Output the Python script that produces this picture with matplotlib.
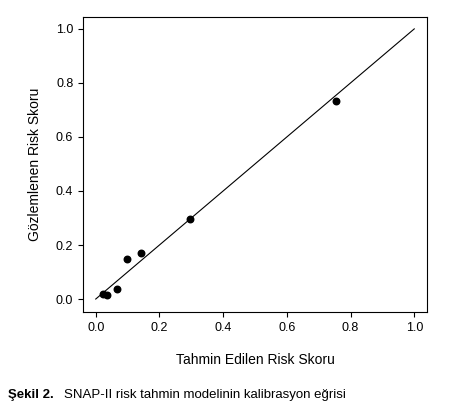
import matplotlib
matplotlib.use("Agg")
import matplotlib.pyplot as plt

predicted = [0.023, 0.034, 0.068, 0.099, 0.142, 0.297, 0.754]
observed = [0.020, 0.016, 0.037, 0.148, 0.171, 0.297, 0.734]
ticks = [0.0, 0.2, 0.4, 0.6, 0.8, 1.0]

plt.rcParams['font.family'] = ['Liberation Sans', 'DejaVu Sans']
fig = plt.figure(figsize=(4.49, 4.16), dpi=100)
ax = fig.add_axes([83/449, 1-312/416, (427-83)/449, (312-17)/416])
ax.plot([0, 1], [0, 1], color='black', lw=0.8)
ax.scatter(predicted, observed, s=22, color='black', zorder=3)
ax.set_xlim(-0.04, 1.04)
ax.set_ylim(-0.048, 1.044)
ax.set_xticks(ticks)
ax.set_yticks(ticks)
ax.set_xticklabels([f"{t:.1f}" for t in ticks], fontsize=9)
ax.set_yticklabels([f"{t:.1f}" for t in ticks], fontsize=9)
ax.set_xlabel("Tahmin Edilen Risk Skoru", fontsize=10, labelpad=14)
ax.set_ylabel("Gözlemlenen Risk Skoru", fontsize=10, labelpad=10)
fig.text(8/449, 1-395/416, "Şekil 2.", fontsize=9.5, fontweight='bold', va='center')
fig.text(64/449, 1-395/416, "SNAP-II risk tahmin modelinin kalibrasyon eğrisi", fontsize=9.5, va='center')
fig.savefig("out.png", dpi=100)
